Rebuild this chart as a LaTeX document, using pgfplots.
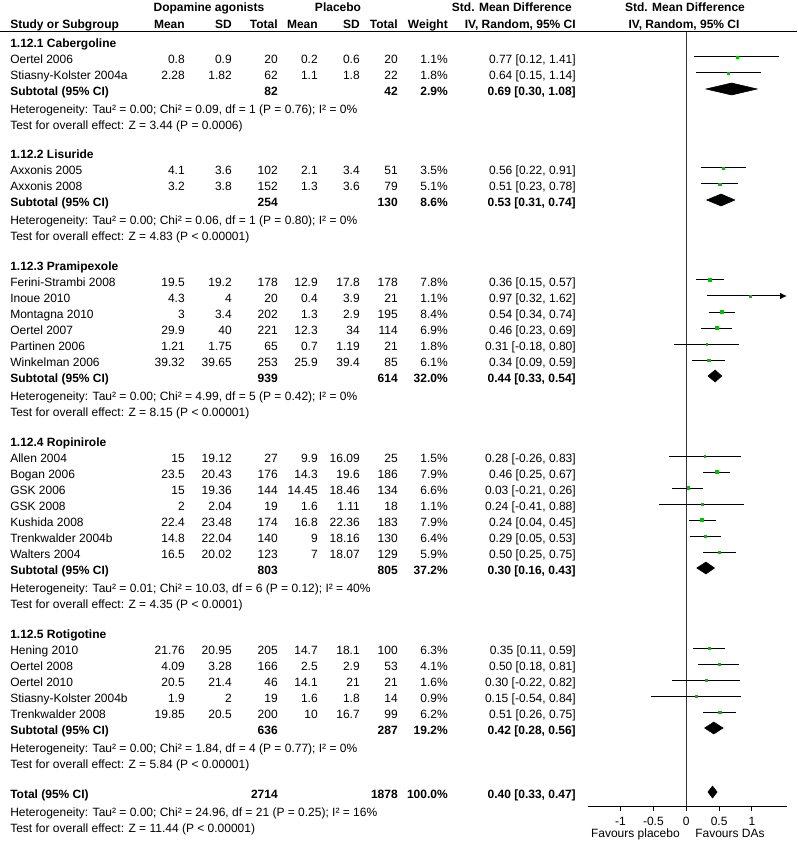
\documentclass[border=0pt]{standalone}
\usepackage{fontspec}
\setmainfont{Liberation Sans}
\usepackage{pgfplots}
\pgfplotsset{compat=1.18}
\usepackage{pgfplotstable}
\usetikzlibrary{arrows.meta}
\definecolor{sqgreen}{RGB}{0,190,0}
\newcommand\fs{\fontsize{9}{11}\selectfont}

% y = vertical position (negative pixel row), est, lo, hi, weight (%)
\pgfplotstableread{
y est lo hi w
-57 0.77 0.12 1.41 1.1
-73 0.64 0.15 1.14 1.8
-168 0.56 0.22 0.91 3.5
-184 0.51 0.23 0.78 5.1
-280 0.36 0.15 0.57 7.8
-296 0.97 0.32 1.62 1.1
-312 0.54 0.34 0.74 8.4
-328 0.46 0.23 0.69 6.9
-344 0.31 -0.18 0.80 1.8
-360 0.34 0.09 0.59 6.1
-456 0.28 -0.26 0.83 1.5
-472 0.46 0.25 0.67 7.9
-488 0.03 -0.21 0.26 6.6
-504 0.24 -0.41 0.88 1.1
-520 0.24 0.04 0.45 7.9
-536 0.29 0.05 0.53 6.4
-552 0.50 0.25 0.75 5.9
-648 0.35 0.11 0.59 6.3
-664 0.50 0.18 0.81 4.1
-680 0.30 -0.22 0.82 1.6
-696 0.15 -0.54 0.84 0.9
-712 0.51 0.26 0.75 6.2
}\studies

\newcommand\off{6.5}
\newcommand\study[9]{%
  \node[anchor=base west] at (10,#1+\off) {#2};
  \node[anchor=base east] at (185,#1+\off) {#3};
  \node[anchor=base east] at (232,#1+\off) {#4};
  \node[anchor=base east] at (278,#1+\off) {#5};
  \node[anchor=base east] at (318,#1+\off) {#6};
  \node[anchor=base east] at (360,#1+\off) {#7};
  \node[anchor=base east] at (398,#1+\off) {#8};
  \node[anchor=base east] at (448,#1+\off) {#9};}
\newcommand\ci[2]{\node[anchor=base east] at (576,#1+\off) {#2};}
\newcommand\sub[6]{%
  \node[anchor=base west,font=\fs\bfseries] at (10,#1+\off) {#2};
  \node[anchor=base east,font=\fs\bfseries] at (278,#1+\off) {#3};
  \node[anchor=base east,font=\fs\bfseries] at (398,#1+\off) {#4};
  \node[anchor=base east,font=\fs\bfseries] at (448,#1+\off) {#5};
  \node[anchor=base east,font=\fs\bfseries] at (576,#1+\off) {#6};}
\newcommand\het[2]{\node[anchor=base west] at (10,#1+\off) {#2};}
\newcommand\grp[2]{\node[anchor=base west,font=\fs\bfseries] at (10,#1+\off) {#2};}

\begin{document}
\begin{tikzpicture}
\begin{scope}[x=0.75pt,y=-0.75pt,every node/.style={inner sep=0pt,font=\fs}]
\path[use as bounding box] (0,0) rectangle (797,848);
\draw[line width=0.75pt] (0,32) -- (797,32);
% header
\node[anchor=base,font=\fs\bfseries] at (209,12) {Dopamine agonists};
\node[anchor=base,font=\fs\bfseries] at (338,12) {Placebo};
\node[anchor=base east,font=\fs\bfseries] at (572,12) {Std. Mean Difference};
\node[anchor=base,font=\fs\bfseries] at (685,12) {Std. Mean Difference};
\node[anchor=base west,font=\fs\bfseries] at (10,29) {Study or Subgroup};
\node[anchor=base east,font=\fs\bfseries] at (185,29) {Mean};
\node[anchor=base east,font=\fs\bfseries] at (232,29) {SD};
\node[anchor=base east,font=\fs\bfseries] at (278,29) {Total};
\node[anchor=base east,font=\fs\bfseries] at (318,29) {Mean};
\node[anchor=base east,font=\fs\bfseries] at (360,29) {SD};
\node[anchor=base east,font=\fs\bfseries] at (398,29) {Total};
\node[anchor=base east,font=\fs\bfseries] at (448,29) {Weight};
\node[anchor=base east,font=\fs\bfseries] at (576,29) {IV, Random, 95\% CI};
\node[anchor=base,font=\fs\bfseries] at (684,29) {IV, Random, 95\% CI};
% Cabergoline
\grp{41}{1.12.1 Cabergoline}
\study{57}{Oertel 2006}{0.8}{0.9}{20}{0.2}{0.6}{20}{1.1\%}\ci{57}{0.77 [0.12, 1.41]}
\study{73}{Stiasny-Kolster 2004a}{2.28}{1.82}{62}{1.1}{1.8}{22}{1.8\%}\ci{73}{0.64 [0.15, 1.14]}
\sub{89}{Subtotal (95\% CI)}{82}{42}{2.9\%}{0.69 [0.30, 1.08]}
\het{107}{Heterogeneity: Tau² = 0.00; Chi² = 0.09, df = 1 (P = 0.76); I² = 0\%}
\het{123}{Test for overall effect: Z = 3.44 (P = 0.0006)}
% Lisuride
\grp{152}{1.12.2 Lisuride}
\study{168}{Axxonis 2005}{4.1}{3.6}{102}{2.1}{3.4}{51}{3.5\%}\ci{168}{0.56 [0.22, 0.91]}
\study{184}{Axxonis 2008}{3.2}{3.8}{152}{1.3}{3.6}{79}{5.1\%}\ci{184}{0.51 [0.23, 0.78]}
\sub{200}{Subtotal (95\% CI)}{254}{130}{8.6\%}{0.53 [0.31, 0.74]}
\het{218}{Heterogeneity: Tau² = 0.00; Chi² = 0.06, df = 1 (P = 0.80); I² = 0\%}
\het{234}{Test for overall effect: Z = 4.83 (P < 0.00001)}
% Pramipexole
\grp{264}{1.12.3 Pramipexole}
\study{280}{Ferini-Strambi 2008}{19.5}{19.2}{178}{12.9}{17.8}{178}{7.8\%}\ci{280}{0.36 [0.15, 0.57]}
\study{296}{Inoue 2010}{4.3}{4}{20}{0.4}{3.9}{21}{1.1\%}\ci{296}{0.97 [0.32, 1.62]}
\study{312}{Montagna 2010}{3}{3.4}{202}{1.3}{2.9}{195}{8.4\%}\ci{312}{0.54 [0.34, 0.74]}
\study{328}{Oertel 2007}{29.9}{40}{221}{12.3}{34}{114}{6.9\%}\ci{328}{0.46 [0.23, 0.69]}
\study{344}{Partinen 2006}{1.21}{1.75}{65}{0.7}{1.19}{21}{1.8\%}\ci{344}{0.31 [-0.18, 0.80]}
\study{360}{Winkelman 2006}{39.32}{39.65}{253}{25.9}{39.4}{85}{6.1\%}\ci{360}{0.34 [0.09, 0.59]}
\sub{376}{Subtotal (95\% CI)}{939}{614}{32.0\%}{0.44 [0.33, 0.54]}
\het{394}{Heterogeneity: Tau² = 0.00; Chi² = 4.99, df = 5 (P = 0.42); I² = 0\%}
\het{410}{Test for overall effect: Z = 8.15 (P < 0.00001)}
% Ropinirole
\grp{440}{1.12.4 Ropinirole}
\study{456}{Allen 2004}{15}{19.12}{27}{9.9}{16.09}{25}{1.5\%}\ci{456}{0.28 [-0.26, 0.83]}
\study{472}{Bogan 2006}{23.5}{20.43}{176}{14.3}{19.6}{186}{7.9\%}\ci{472}{0.46 [0.25, 0.67]}
\study{488}{GSK 2006}{15}{19.36}{144}{14.45}{18.46}{134}{6.6\%}\ci{488}{0.03 [-0.21, 0.26]}
\study{504}{GSK 2008}{2}{2.04}{19}{1.6}{1.11}{18}{1.1\%}\ci{504}{0.24 [-0.41, 0.88]}
\study{520}{Kushida 2008}{22.4}{23.48}{174}{16.8}{22.36}{183}{7.9\%}\ci{520}{0.24 [0.04, 0.45]}
\study{536}{Trenkwalder 2004b}{14.8}{22.04}{140}{9}{18.16}{130}{6.4\%}\ci{536}{0.29 [0.05, 0.53]}
\study{552}{Walters 2004}{16.5}{20.02}{123}{7}{18.07}{129}{5.9\%}\ci{552}{0.50 [0.25, 0.75]}
\sub{568}{Subtotal (95\% CI)}{803}{805}{37.2\%}{0.30 [0.16, 0.43]}
\het{586}{Heterogeneity: Tau² = 0.01; Chi² = 10.03, df = 6 (P = 0.12); I² = 40\%}
\het{602}{Test for overall effect: Z = 4.35 (P < 0.0001)}
% Rotigotine
\grp{632}{1.12.5 Rotigotine}
\study{648}{Hening 2010}{21.76}{20.95}{205}{14.7}{18.1}{100}{6.3\%}\ci{648}{0.35 [0.11, 0.59]}
\study{664}{Oertel 2008}{4.09}{3.28}{166}{2.5}{2.9}{53}{4.1\%}\ci{664}{0.50 [0.18, 0.81]}
\study{680}{Oertel 2010}{20.5}{21.4}{46}{14.1}{21}{21}{1.6\%}\ci{680}{0.30 [-0.22, 0.82]}
\study{696}{Stiasny-Kolster 2004b}{1.9}{2}{19}{1.6}{1.8}{14}{0.9\%}\ci{696}{0.15 [-0.54, 0.84]}
\study{712}{Trenkwalder 2008}{19.85}{20.5}{200}{10}{16.7}{99}{6.2\%}\ci{712}{0.51 [0.26, 0.75]}
\sub{728}{Subtotal (95\% CI)}{636}{287}{19.2\%}{0.42 [0.28, 0.56]}
\het{746}{Heterogeneity: Tau² = 0.00; Chi² = 1.84, df = 4 (P = 0.77); I² = 0\%}
\het{762}{Test for overall effect: Z = 5.84 (P < 0.00001)}
% Total
\sub{792}{Total (95\% CI)}{2714}{1878}{100.0\%}{0.40 [0.33, 0.47]}
\het{810}{Heterogeneity: Tau² = 0.00; Chi² = 24.96, df = 21 (P = 0.25); I² = 16\%}
\het{826}{Test for overall effect: Z = 11.44 (P < 0.00001)}
% favours
\node[anchor=base east] at (680,837) {Favours placebo};
\node[anchor=base west] at (695,837) {Favours DAs};
\end{scope}

\begin{axis}[
  at={(440.7pt,-604.5pt)}, anchor=south west,
  scale only axis, width=149.4pt, height=580.5pt,
  xmin=-1.5, xmax=1.53, ymin=-806, ymax=-32,
  axis x line*=bottom, axis y line=none,
  clip=false,
  xtick={-1,-0.5,0,0.5,1}, xticklabels={-1,-0.5,0,0.5,1},
  ytick=\empty,
  tick align=outside, major tick length=3.75pt,
  axis line style={line width=0.75pt,black},
  xtick style={line width=0.75pt,black},
  xticklabel style={font=\fs, yshift=-1pt},
]
\addplot[black!80, line width=0.75pt] coordinates {(0,-32) (0,-806)};
% confidence intervals (lo to hi)
\addplot[black, line width=0.75pt, unbounded coords=jump] coordinates {
(0.12,-57) (1.41,-57) (nan,nan)
(0.15,-73) (1.14,-73) (nan,nan)
(0.22,-168) (0.91,-168) (nan,nan)
(0.23,-184) (0.78,-184) (nan,nan)
(0.15,-280) (0.57,-280) (nan,nan)
(0.34,-312) (0.74,-312) (nan,nan)
(0.23,-328) (0.69,-328) (nan,nan)
(-0.18,-344) (0.80,-344) (nan,nan)
(0.09,-360) (0.59,-360) (nan,nan)
(-0.26,-456) (0.83,-456) (nan,nan)
(0.25,-472) (0.67,-472) (nan,nan)
(-0.21,-488) (0.26,-488) (nan,nan)
(-0.41,-504) (0.88,-504) (nan,nan)
(0.04,-520) (0.45,-520) (nan,nan)
(0.05,-536) (0.53,-536) (nan,nan)
(0.25,-552) (0.75,-552) (nan,nan)
(0.11,-648) (0.59,-648) (nan,nan)
(0.18,-664) (0.81,-664) (nan,nan)
(-0.22,-680) (0.82,-680) (nan,nan)
(-0.54,-696) (0.84,-696) (nan,nan)
(0.26,-712) (0.75,-712)
};
% Inoue 2010: upper limit 1.62 beyond the axis, drawn with an arrow
\addplot[black, line width=0.75pt, -{Latex[length=5pt,width=5pt]}] coordinates {(0.32,-296) (1.53,-296)};
% squares, sized by weight class
\addplot[color=sqgreen, only marks, mark=square*, mark size=0.65pt,
  mark options={solid,draw=sqgreen,fill=sqgreen,line width=0.3pt},
  restrict expr to domain={\thisrow{w}}{0:3}] table[x=est, y=y] {\studies};
\addplot[color=sqgreen, only marks, mark=square*, mark size=0.85pt,
  mark options={solid,draw=sqgreen,fill=sqgreen,line width=0.3pt},
  restrict expr to domain={\thisrow{w}}{3.01:6.5}] table[x=est, y=y] {\studies};
\addplot[color=sqgreen, only marks, mark=square*, mark size=1.0pt,
  mark options={solid,draw=sqgreen,fill=sqgreen,line width=0.3pt},
  restrict expr to domain={\thisrow{w}}{6.51:20}] table[x=est, y=y] {\studies};
% diamonds: subtotals and total
\addplot[fill=black, draw=black] coordinates {(0.30,-89) (0.69,-83) (1.08,-89) (0.69,-95)} -- cycle;
\addplot[fill=black, draw=black] coordinates {(0.31,-200) (0.53,-194) (0.74,-200) (0.53,-206)} -- cycle;
\addplot[fill=black, draw=black] coordinates {(0.33,-376) (0.44,-370) (0.54,-376) (0.44,-382)} -- cycle;
\addplot[fill=black, draw=black] coordinates {(0.16,-568) (0.30,-562) (0.43,-568) (0.30,-574)} -- cycle;
\addplot[fill=black, draw=black] coordinates {(0.28,-728) (0.42,-722) (0.56,-728) (0.42,-734)} -- cycle;
\addplot[fill=black, draw=black] coordinates {(0.33,-792) (0.40,-786) (0.47,-792) (0.40,-798)} -- cycle;
\end{axis}
\end{tikzpicture}
\end{document}
